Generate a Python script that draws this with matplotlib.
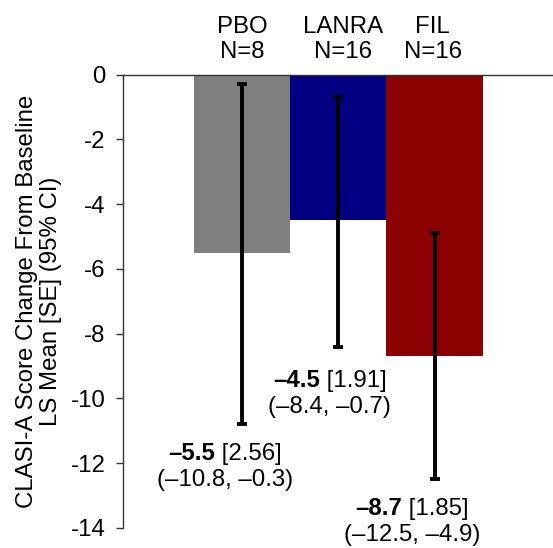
import matplotlib
matplotlib.use('Agg')
import matplotlib.pyplot as plt
from matplotlib.offsetbox import TextArea, HPacker, VPacker, AnnotationBbox

plt.rcParams['font.family'] = ['Liberation Sans', 'DejaVu Sans']
plt.rcParams['axes.unicode_minus'] = False

groups = ['PBO', 'LANRA', 'FIL']
n_pts = [8, 16, 16]
ls_mean = [-5.5, -4.5, -8.7]
se = [2.56, 1.91, 1.85]
ci_low = [-10.8, -8.4, -12.5]
ci_high = [-0.3, -0.7, -4.9]
colors = ['#7f7f7f', '#000080', '#8b0000']

# label anchor (centre of the two-line block), data coords
label_x = [-0.18, 0.91, 1.765]
label_y = [-12.1, -9.85, -13.81]

FS = 17.3

fig = plt.figure(figsize=(5.53, 5.48), dpi=100)
ax = fig.add_axes([0.2233, 0.0365, 0.7767, 0.8275])

x = list(range(len(groups)))
ax.bar(x, ls_mean, width=1.0, color=colors, zorder=1)

yerr = [[m - lo for m, lo in zip(ls_mean, ci_low)],
        [hi - m for m, hi in zip(ls_mean, ci_high)]]
ax.errorbar(x, ls_mean, yerr=yerr, fmt='none', ecolor='black',
            elinewidth=2.8, capsize=3.5, capthick=2.8, zorder=3)

ax.set_xlim(-1.23, 3.23)
ax.set_ylim(-14, 0)
ax.set_yticks(range(-14, 1, 2))
ax.set_xticks([])

for side in ['right', 'bottom']:
    ax.spines[side].set_visible(False)
for side in ['left', 'top']:
    ax.spines[side].set_color('#333333')
    ax.spines[side].set_linewidth(1.0)

ax.tick_params(axis='y', direction='out', length=5, width=1, color='#333333',
               labelsize=FS, pad=8)

ax.set_ylabel('CLASI-A Score Change From Baseline\nLS Mean [SE] (95% CI)',
              fontsize=FS, linespacing=1.15, labelpad=6)

# group headers above the plot
hdr_x = [0.0, 1.05, 1.98]
for xi, g, n in zip(hdr_x, groups, n_pts):
    ax.text(xi, 1.025, f'{g}\nN={n}', transform=ax.get_xaxis_transform(),
            ha='center', va='bottom', fontsize=FS, linespacing=1.2)

# value labels: bold mean, [SE], (CI)
for i in range(len(groups)):
    t_mean = TextArea(f'{ls_mean[i]:.1f}'.replace('-', '\u2013'),
                      textprops=dict(fontsize=FS, fontweight='bold'))
    t_se = TextArea(f' [{se[i]:.2f}]', textprops=dict(fontsize=FS))
    t_ci = TextArea(f'({ci_low[i]:.1f}, {ci_high[i]:.1f})'.replace('-', '\u2013'),
                    textprops=dict(fontsize=FS))
    line1 = HPacker(children=[t_mean, t_se], pad=0, sep=0, align='baseline')
    block = VPacker(children=[line1, t_ci], pad=0, sep=3, align='center')
    ab = AnnotationBbox(block, (label_x[i], label_y[i]), xycoords='data',
                        frameon=False, box_alignment=(0.5, 0.5),
                        annotation_clip=False)
    ax.add_artist(ab)

fig.savefig('out.png', dpi=100)
